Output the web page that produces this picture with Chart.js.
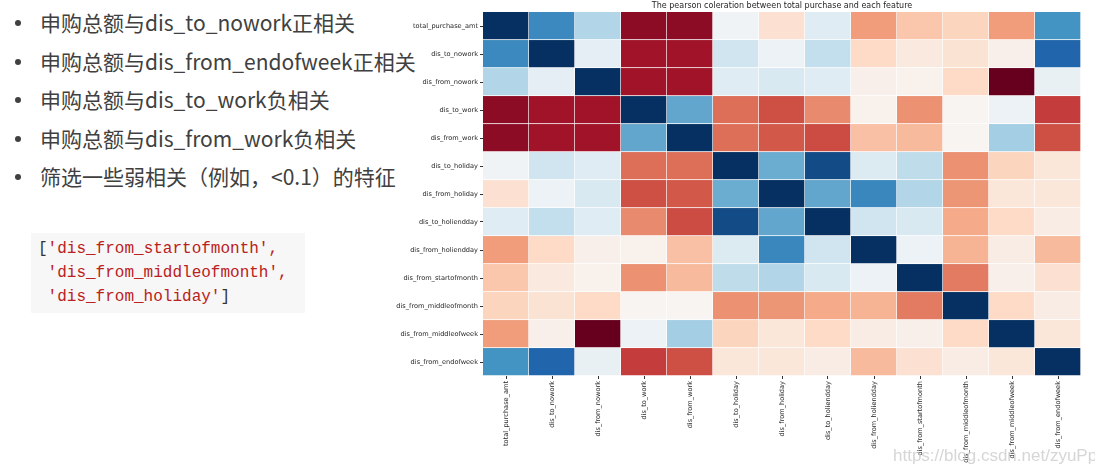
<!DOCTYPE html>
<html>
<head>
<meta charset="utf-8">
<script src="https://cdn.jsdelivr.net/npm/chart.js@4/dist/chart.umd.min.js"></script>
<style>
  body { margin: 0; width: 1095px; height: 476px; background: #fff; position: relative; overflow: hidden; }
  .bullets { position: absolute; left: 0; top: 6px; margin: 0; padding: 0; list-style: none;
             font-family: "Noto Sans CJK SC", "Noto Sans", sans-serif; font-size: 21px; color: #404040; }
  .bullets li { position: relative; height: 38.6px; line-height: 32px; padding-left: 40px; }
  .bullets li::before { content: ""; position: absolute; left: 15px; top: 14px; width: 6px; height: 6px;
                        border-radius: 50%; background: #404040; }
  .code { position: absolute; left: 31px; top: 233px; width: 274px; height: 80px; background: #f7f7f7; }
  .code pre { margin: 0; padding: 4px 0 0 7px; font-family: "Liberation Mono", monospace; font-size: 16px;
              line-height: 24px; color: #ba2121; }
  .code .b { color: #333; }
  #wrap { position: absolute; left: 390px; top: 0; width: 705px; height: 476px; }
  .mark { position: absolute; left: 893px; top: 446px; font-family: "Liberation Sans", sans-serif;
          font-size: 17px; color: rgba(200,200,200,0.75); }
</style>
</head>
<body>
<ul class="bullets">
  <li>申购总额与dis_to_nowork正相关</li>
  <li>申购总额与dis_from_endofweek正相关</li>
  <li>申购总额与dis_to_work负相关</li>
  <li>申购总额与dis_from_work负相关</li>
  <li>筛选一些弱相关（例如，&lt;0.1）的特征</li>
</ul>
<div class="code"><pre><span class="b">[</span>'dis_from_startofmonth',
 'dis_from_middleofmonth',
 'dis_from_holiday'<span class="b">]</span></pre></div>
<div id="wrap"><canvas id="heat"></canvas></div>
<div class="mark">https://blog.csdn.net/zyuPp</div>
<script>
const features = ['total_purchase_amt', 'dis_to_nowork', 'dis_from_nowork', 'dis_to_work', 'dis_from_work',
  'dis_to_holiday', 'dis_from_holiday', 'dis_to_holiendday', 'dis_from_holiendday', 'dis_from_startofmonth',
  'dis_from_middleofmonth', 'dis_from_middleofweek', 'dis_from_endofweek'];

// correlation matrix, one row per feature
const rowTotal      = [1, 0.68, 0.37, -0.71, -0.71, 0.14, -0.04, 0.21, -0.28, -0.15, -0.10, -0.28, 0.64];
const rowToNowork   = [0.68, 1, 0.19, -0.66, -0.66, 0.28, 0.15, 0.32, -0.08, 0.01, -0.03, 0.05, 0.82];
const rowFromNowork = [0.37, 0.19, 1, -0.66, -0.66, 0.21, 0.24, 0.21, 0.05, 0.06, -0.08, -0.80, 0.17];
const rowToWork     = [-0.71, -0.66, -0.66, 1, 0.57, -0.40, -0.48, -0.33, 0.06, -0.31, 0.08, 0.15, -0.53];
const rowFromWork   = [-0.71, -0.66, -0.66, 0.57, 1, -0.40, -0.46, -0.49, -0.17, -0.19, 0.08, 0.41, -0.48];
const rowToHoliday  = [0.14, 0.28, 0.21, -0.40, -0.40, 1, 0.55, 0.91, 0.23, 0.33, -0.31, -0.10, -0.01];
const rowFromHoliday = [-0.04, 0.15, 0.24, -0.48, -0.46, 0.55, 1, 0.57, 0.69, 0.37, -0.30, -0.01, -0.01];
const rowToHoliend  = [0.21, 0.32, 0.21, -0.33, -0.49, 0.91, 0.57, 1, 0.28, 0.24, -0.24, -0.08, 0.03];
const rowFromHoliend = [-0.28, -0.08, 0.05, 0.06, -0.17, 0.23, 0.69, 0.28, 1, 0.15, -0.21, 0.03, -0.19];
const rowStartMonth = [-0.15, 0.01, 0.06, -0.31, -0.19, 0.33, 0.37, 0.24, 0.15, 1, -0.37, 0.05, -0.04];
const rowMidMonth   = [-0.10, -0.03, -0.08, 0.08, 0.08, -0.31, -0.30, -0.24, -0.21, -0.37, 1, -0.08, 0.03];
const rowMidWeek    = [-0.28, 0.05, -0.80, 0.15, 0.41, -0.10, -0.01, -0.08, 0.03, 0.05, -0.08, 1, -0.01];
const rowEndWeek    = [0.64, 0.82, 0.17, -0.53, -0.48, -0.01, -0.01, 0.03, -0.19, -0.04, 0.03, -0.01, 1];

const matrix = [rowTotal, rowToNowork, rowFromNowork, rowToWork, rowFromWork, rowToHoliday, rowFromHoliday,
  rowToHoliend, rowFromHoliend, rowStartMonth, rowMidMonth, rowMidWeek, rowEndWeek];

const titleText = 'The pearson coleration between total purchase and each feature';

// matplotlib RdBu
const rdbu = ['#67001f', '#b2182b', '#d6604d', '#f4a582', '#fddbc7', '#f7f7f7',
  '#d1e5f0', '#92c5de', '#4393c3', '#2166ac', '#053061'];

function hexToRgb(h) {
  return [parseInt(h.slice(1, 3), 16), parseInt(h.slice(3, 5), 16), parseInt(h.slice(5, 7), 16)];
}

const all = matrix.flat();
const vmin = Math.min(...all);
const vmax = Math.max(...all);

function colorFor(v) {
  let t = (v - vmin) / (vmax - vmin);
  t = Math.max(0, Math.min(1, t));
  const pos = t * (rdbu.length - 1);
  const i = Math.min(Math.floor(pos), rdbu.length - 2);
  const f = pos - i;
  const a = hexToRgb(rdbu[i]), b = hexToRgb(rdbu[i + 1]);
  const c = a.map((x, k) => Math.round(x + (b[k] - x) * f));
  return `rgb(${c[0]},${c[1]},${c[2]})`;
}

const datasets = matrix.map((row, i) => ({
  label: features[i],
  data: row.map(() => 1),
  backgroundColor: row.map(colorFor),
  borderColor: 'rgba(255,255,255,0.9)',
  borderWidth: { top: 0, left: 0, right: 1, bottom: 1 },
  borderSkipped: false,
  categoryPercentage: 1,
  barPercentage: 1
}));

const centerTitle = {
  id: 'centerTitle',
  afterDraw(chart) {
    const { ctx, chartArea } = chart;
    ctx.save();
    ctx.font = '8px "DejaVu Sans"';
    ctx.fillStyle = '#262626';
    ctx.textAlign = 'center';
    ctx.textBaseline = 'bottom';
    ctx.fillText(titleText, (chartArea.left + chartArea.right) / 2, chartArea.top - 2);
    ctx.restore();
  }
};

const tickFont = { family: 'DejaVu Sans', size: 6.6 };

new Chart(document.getElementById('heat'), {
  type: 'bar',
  data: { labels: features, datasets: datasets },
  options: {
    responsive: true,
    maintainAspectRatio: false,
    animation: false,
    layout: { padding: { top: 12, right: 14, left: 0, bottom: 0 } },
    plugins: { legend: { display: false }, tooltip: { enabled: false } },
    scales: {
      x: {
        stacked: true,
        grid: { display: true, offset: false, drawOnChartArea: false, drawTicks: true, tickLength: 3, tickColor: '#333' },
        border: { display: false },
        ticks: { font: tickFont, color: '#262626', maxRotation: 90, minRotation: 90, autoSkip: false, padding: 2 },
        afterFit(axis) { axis.height = 100; }
      },
      y: {
        stacked: true,
        reverse: true,
        min: 0,
        max: features.length,
        grid: { display: true, drawOnChartArea: false, drawTicks: true, tickLength: 3, tickColor: '#333' },
        border: { display: false },
        afterBuildTicks(axis) { axis.ticks = features.map((_, i) => ({ value: i + 0.5 })); },
        ticks: {
          font: tickFont, color: '#262626', autoSkip: false, padding: 2,
          callback: (value, index) => features[index]
        },
        afterFit(axis) { axis.width = 93; }
      }
    }
  },
  plugins: [centerTitle]
});
</script>
</body>
</html>
